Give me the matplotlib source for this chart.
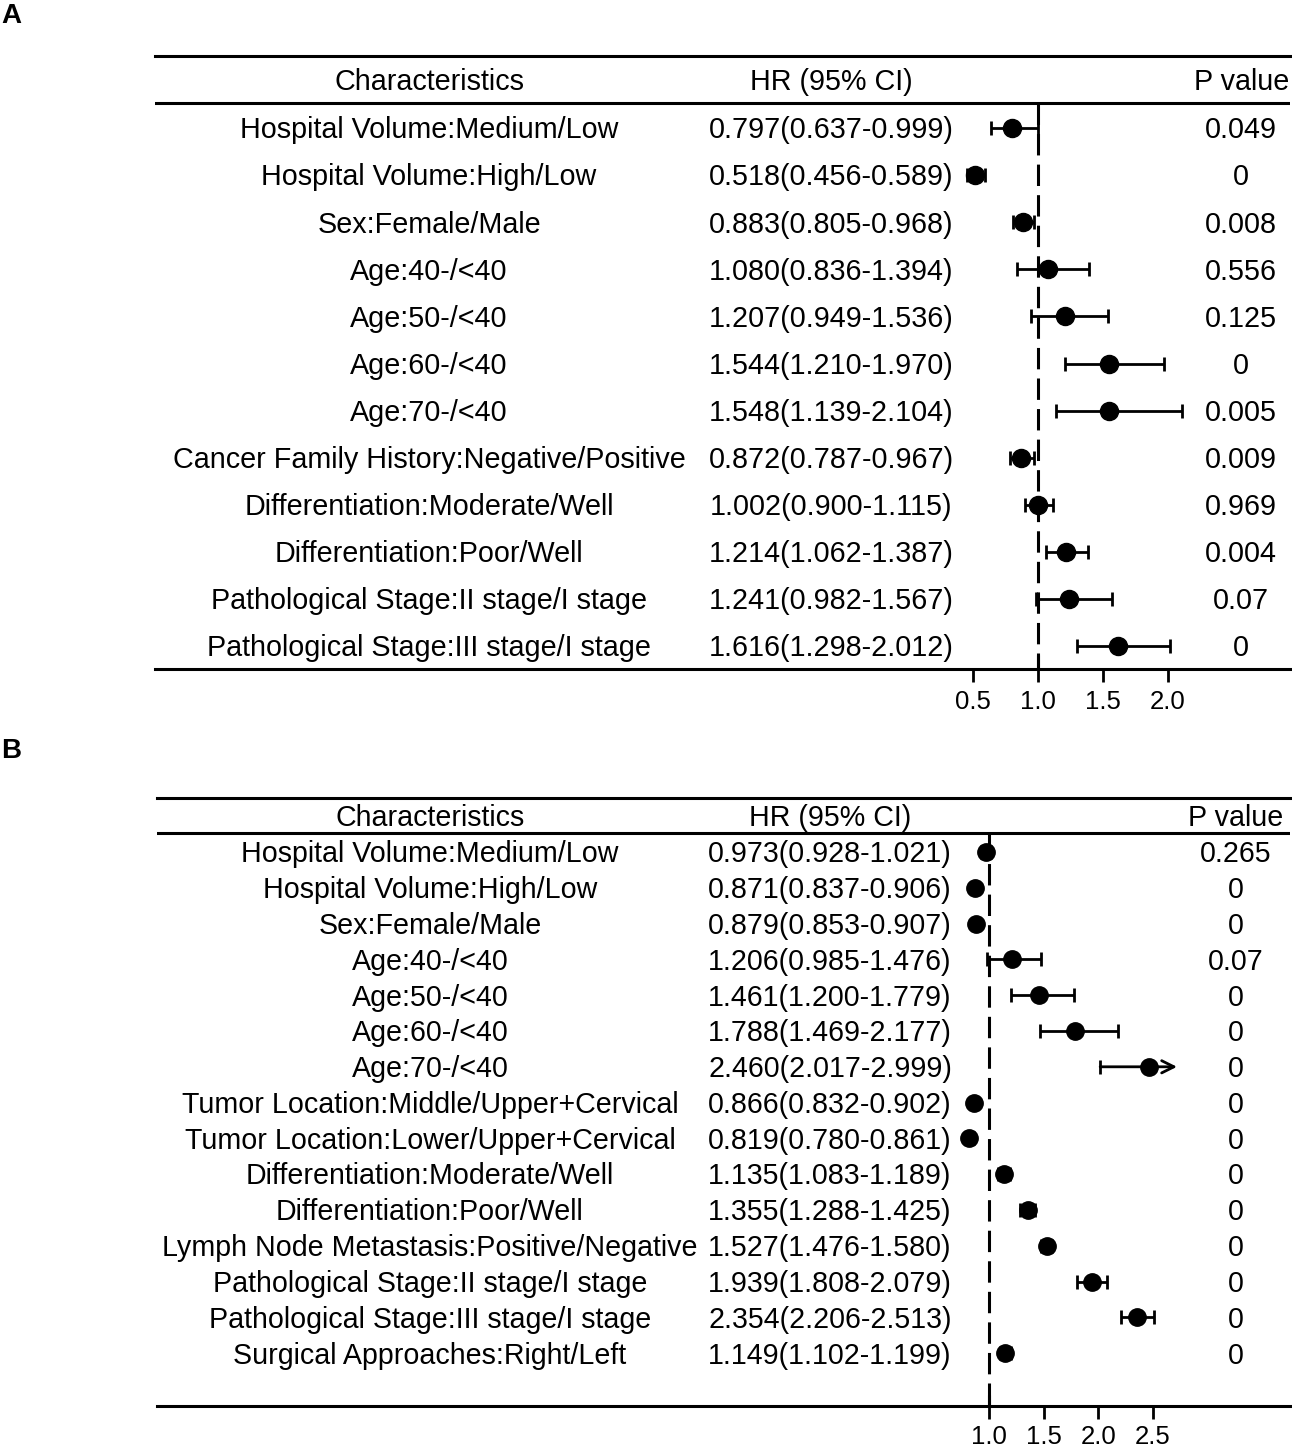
import numpy as np
import matplotlib.pyplot as plt

plt.rcParams['font.family'] = ['Liberation Sans', 'DejaVu Sans']

W, H = 1292, 1451

# ---- panel A data ----
a_labels = ["Hospital Volume:Medium/Low", "Hospital Volume:High/Low", "Sex:Female/Male",
            "Age:40-/<40", "Age:50-/<40", "Age:60-/<40", "Age:70-/<40",
            "Cancer Family History:Negative/Positive", "Differentiation:Moderate/Well",
            "Differentiation:Poor/Well", "Pathological Stage:II stage/I stage",
            "Pathological Stage:III stage/I stage"]
a_hr = [0.797, 0.518, 0.883, 1.080, 1.207, 1.544, 1.548, 0.872, 1.002, 1.214, 1.241, 1.616]
a_lo = [0.637, 0.456, 0.805, 0.836, 0.949, 1.210, 1.139, 0.787, 0.900, 1.062, 0.982, 1.298]
a_hi = [0.999, 0.589, 0.968, 1.394, 1.536, 1.970, 2.104, 0.967, 1.115, 1.387, 1.567, 2.012]
a_p = ["0.049", "0", "0.008", "0.556", "0.125", "0", "0.005", "0.009", "0.969", "0.004", "0.07", "0"]
a_ticks = [0.5, 1.0, 1.5, 2.0]

# ---- panel B data ----
b_labels = ["Hospital Volume:Medium/Low", "Hospital Volume:High/Low", "Sex:Female/Male",
            "Age:40-/<40", "Age:50-/<40", "Age:60-/<40", "Age:70-/<40",
            "Tumor Location:Middle/Upper+Cervical", "Tumor Location:Lower/Upper+Cervical",
            "Differentiation:Moderate/Well", "Differentiation:Poor/Well",
            "Lymph Node Metastasis:Positive/Negative", "Pathological Stage:II stage/I stage",
            "Pathological Stage:III stage/I stage", "Surgical Approaches:Right/Left"]
b_hr = [0.973, 0.871, 0.879, 1.206, 1.461, 1.788, 2.460, 0.866, 0.819, 1.135, 1.355, 1.527, 1.939, 2.354, 1.149]
b_lo = [0.928, 0.837, 0.853, 0.985, 1.200, 1.469, 2.017, 0.832, 0.780, 1.083, 1.288, 1.476, 1.808, 2.206, 1.102]
b_hi = [1.021, 0.906, 0.907, 1.476, 1.779, 2.177, 2.999, 0.902, 0.861, 1.189, 1.425, 1.580, 2.079, 2.513, 1.199]
b_p = ["0.265", "0", "0", "0.07", "0", "0", "0", "0", "0", "0", "0", "0", "0", "0", "0"]
b_ticks = [1.0, 1.5, 2.0, 2.5]


def forest(fig, box, ref_px, px_per_unit, row0, row_step, top_px, hline_px, axis_px,
           labels, hr, lo, hi, pvals, ticks, fs, col_char, col_hr, col_p, phead_right,
           ms, tick_fs, tick_pad, clip=None):
    left, right = box
    ax = fig.add_axes([left / W, 1 - axis_px / H, (right - left) / W, (axis_px - top_px) / H])
    x0 = 1 + (left - ref_px) / px_per_unit
    x1 = 1 + (right - ref_px) / px_per_unit
    ax.set_xlim(x0, x1)
    ytop = (top_px - row0) / row_step
    ybot = (axis_px - row0) / row_step
    ax.set_ylim(ybot, ytop)
    for s in ['left', 'right']:
        ax.spines[s].set_visible(False)
    for s in ['top', 'bottom']:
        ax.spines[s].set_linewidth(2.2)
    ax.set_yticks([])
    ax.set_xticks(ticks)
    ax.set_xticklabels(["%.1f" % t for t in ticks], fontsize=tick_fs)
    ax.tick_params(axis='x', direction='out', length=9, width=2, pad=tick_pad)
    yh = (hline_px - row0) / row_step
    ax.axhline(yh, color='black', lw=2.2)
    # reference line at HR = 1
    ax.plot([1, 1], [yh, ybot], color='black', lw=2.2, dashes=(7, 3))
    ax.plot([1, 1], [ybot - 0.3, ybot], color='black', lw=2.2, solid_capstyle='butt')

    tr = ax.get_yaxis_transform()
    fx = lambda px: (px - left) / (right - left)
    # text baseline sits about half a cap height below the row centre
    off = 0.36 * fs * 100 / 72 / row_step
    yhead = (yh + ytop) / 2 + off
    ax.text(fx(col_char), yhead, "Characteristics", ha='center', va='baseline', fontsize=fs, transform=tr)
    ax.text(fx(col_hr), yhead, "HR (95% CI)", ha='center', va='baseline', fontsize=fs, transform=tr)
    ax.text(fx(phead_right), yhead, "P value", ha='right', va='baseline', fontsize=fs, transform=tr)

    y = np.arange(len(labels))
    for i in range(len(labels)):
        ax.text(fx(col_char), y[i] + off, labels[i], ha='center', va='baseline', fontsize=fs, transform=tr)
        ax.text(fx(col_hr), y[i] + off, "%.3f(%.3f-%.3f)" % (hr[i], lo[i], hi[i]),
                ha='center', va='baseline', fontsize=fs, transform=tr)
        ax.text(fx(col_p), y[i] + off, pvals[i], ha='center', va='baseline', fontsize=fs, transform=tr)
        if clip is not None and hi[i] > clip:
            ax.annotate('', xy=(clip, y[i]), xytext=(lo[i], y[i]),
                        arrowprops=dict(arrowstyle='->', lw=2, color='black',
                                        shrinkA=0, shrinkB=0, mutation_scale=22))
            ax.plot([lo[i]], [y[i]], marker='|', ms=10, mew=2, color='black')
            ax.plot([hr[i]], [y[i]], 'o', ms=ms, color='black')
        else:
            ax.errorbar(hr[i], y[i], xerr=[[hr[i] - lo[i]], [hi[i] - hr[i]]], fmt='o', ms=ms,
                        color='black', ecolor='black', elinewidth=2, capsize=5, capthick=2)
    return ax


fig = plt.figure(figsize=(W / 100, H / 100), dpi=100)

forest(fig, (155, 1290), 1038, 130.0, 128, 47.1, 56, 103, 669,
       a_labels, a_hr, a_lo, a_hi, a_p, a_ticks, 20.7, 429, 831, 1241, 1289,
       ms=13, tick_fs=18.5, tick_pad=6)

forest(fig, (157, 1290), 989, 109.3, 852, 35.8, 798, 833, 1406,
       b_labels, b_hr, b_lo, b_hi, b_p, b_ticks, 20.6, 430, 830, 1236, 1283,
       ms=12.5, tick_fs=18.5, tick_pad=5, clip=2.72)

fig.text(1 / W, 1 - 16 / H, "A", fontsize=20, fontweight='bold', ha='left', va='center')
fig.text(1 / W, 1 - 751 / H, "B", fontsize=20, fontweight='bold', ha='left', va='center')

fig.savefig("out.png", dpi=100)
